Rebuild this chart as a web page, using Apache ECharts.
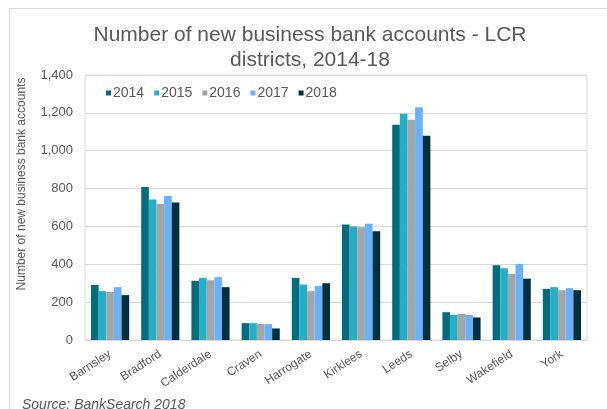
<!DOCTYPE html>
<html>
<head>
<meta charset="utf-8">
<script src="https://cdn.jsdelivr.net/npm/echarts@6/dist/echarts.min.js"></script>
<style>
  html, body { margin: 0; padding: 0; background: #fff; }
  #chart { width: 607px; height: 409px; }
</style>
</head>
<body>
<div id="chart"></div>
<script>
// Districts of the Leeds City Region
var districts = ['Barnsley', 'Bradford', 'Calderdale', 'Craven', 'Harrogate',
                 'Kirklees', 'Leeds', 'Selby', 'Wakefield', 'York'];

// New business bank accounts opened per year
var years = ['2014', '2015', '2016', '2017', '2018'];
var accounts2014 = [291, 808, 312, 89, 328, 610, 1137, 147, 395, 270];
var accounts2015 = [258, 742, 328, 89, 293, 600, 1195, 132, 379, 279];
var accounts2016 = [254, 719, 316, 84, 258, 596, 1163, 138, 349, 263];
var accounts2017 = [279, 761, 332, 84, 286, 614, 1229, 132, 402, 274];
var accounts2018 = [237, 726, 279, 61, 300, 575, 1079, 119, 324, 263];

// Value axis ticks
var yTicks = [0, 200, 400, 600, 800, 1000, 1200, 1400];

var seriesValues = [accounts2014, accounts2015, accounts2016, accounts2017, accounts2018];
var palette = ['#006d7d', '#22b0c8', '#a5a5a5', '#66b2ff', '#00303e'];

var FONT = '"Liberation Sans", Arial, sans-serif';
var GREY = '#595959';
var LINE = '#d9d9d9';

var chart = echarts.init(document.getElementById('chart'), null, { renderer: 'canvas' });

chart.setOption({
  animation: false,
  backgroundColor: '#ffffff',
  textStyle: { fontFamily: FONT },
  color: palette,
  grid: {
    left: 85, right: 20, top: 75, bottom: 69,
    show: true, borderColor: LINE, borderWidth: 1,
    containLabel: false
  },
  legend: {
    data: years,
    left: 101, top: 81,
    icon: 'rect',
    itemWidth: 5, itemHeight: 5, itemGap: 10,
    textStyle: { fontSize: 14, color: GREY, fontFamily: FONT, padding: [0, 0, 0, -3] }
  },
  xAxis: {
    type: 'category',
    data: districts,
    axisLine: { lineStyle: { color: LINE } },
    axisTick: { show: false },
    axisLabel: {
      interval: 0, rotate: 33, margin: 13,
      fontSize: 12, color: GREY, fontFamily: FONT
    }
  },
  yAxis: {
    type: 'value',
    min: yTicks[0], max: yTicks[yTicks.length - 1], interval: yTicks[1] - yTicks[0],
    axisLine: { show: false },
    axisTick: { show: false },
    splitLine: { lineStyle: { color: LINE } },
    axisLabel: {
      margin: 12, fontSize: 13, color: GREY, fontFamily: FONT,
      formatter: function (v) { return v.toLocaleString('en-GB'); }
    }
  },
  series: years.map(function (y, i) {
    return {
      name: y,
      type: 'bar',
      data: seriesValues[i],
      barGap: '0%',
      barCategoryGap: '24%'
    };
  }),
  graphic: [
    {
      type: 'rect', silent: true, z: -1,
      shape: { x: 9.5, y: 8.5, width: 640, height: 440 },
      style: { fill: 'none', stroke: LINE, lineWidth: 1 }
    },
    {
      type: 'text', silent: true,
      style: {
        text: 'Number of new business bank accounts - LCR\ndistricts, 2014-18',
        x: 310, y: 48, textAlign: 'center', textVerticalAlign: 'middle',
        font: '21px ' + FONT, fill: GREY, lineHeight: 25
      }
    },
    {
      type: 'text', silent: true,
      x: 22, y: 184, rotation: Math.PI / 2,
      style: {
        text: 'Number of new business bank accounts',
        x: 0, y: 0, textAlign: 'center', textVerticalAlign: 'middle',
        font: '12px ' + FONT, fill: GREY
      }
    },
    {
      type: 'text', silent: true,
      style: {
        text: 'Source: BankSearch 2018',
        x: 22, y: 398, textAlign: 'left', textVerticalAlign: 'top',
        font: 'italic 14px ' + FONT, fill: GREY
      }
    }
  ]
});
</script>
</body>
</html>
